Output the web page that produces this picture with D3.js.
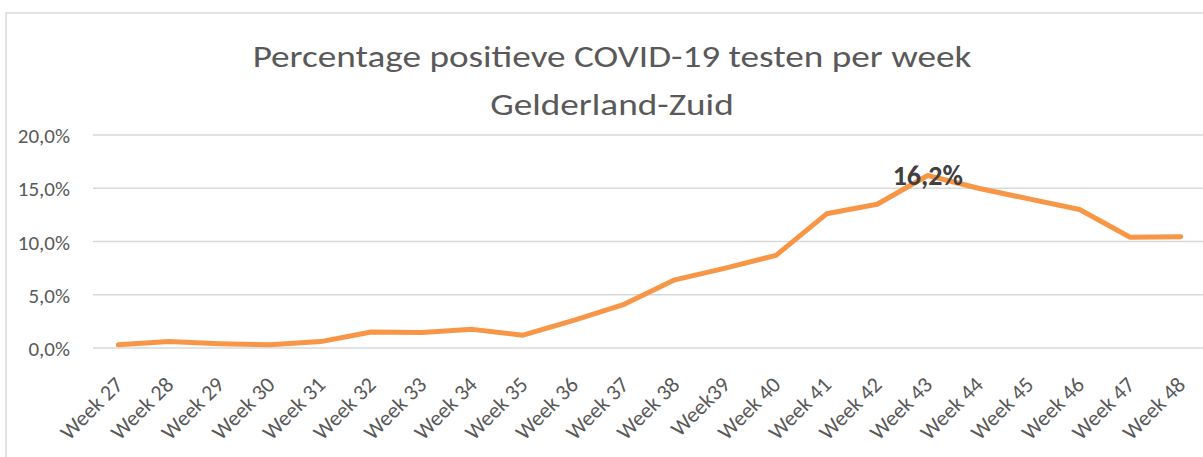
<!DOCTYPE html>
<html><head><meta charset="utf-8">
<script src="https://cdn.jsdelivr.net/npm/d3@7"></script>
<style>body{margin:0;background:#fff}svg{display:block}</style>
</head><body>
<script>
const weeks = ["Week 27","Week 28","Week 29","Week 30","Week 31","Week 32","Week 33","Week 34","Week 35","Week 36","Week 37","Week 38","Week39","Week 40","Week 41","Week 42","Week 43","Week 44","Week 45","Week 46","Week 47","Week 48"];
const values = [0.3,0.6,0.4,0.3,0.6,1.5,1.45,1.75,1.2,2.6,4.1,6.4,7.5,8.7,12.6,13.5,16.2,15.0,14.0,13.0,10.4,10.45];
const yTicks = [0,5,10,15,20];
const titleLines = ["Percentage positieve COVID-19 testen per week","Gelderland-Zuid"];
const labelIndex = 16;

const W = 1203, H = 457;
const svg = d3.select("body").append("svg").attr("width", W).attr("height", H);
const font = "Calibri, Carlito, 'Open Sans', sans-serif";

svg.append("rect").attr("x",6).attr("y",13).attr("width",W+10).attr("height",H+10)
  .attr("fill","#fff").attr("stroke","#d9d9d9").attr("stroke-width",1.5);

const x = d3.scaleBand().domain(weeks).range([93,1206]);
const y = d3.scaleLinear().domain([0,20]).range([348,135]);

svg.append("g").selectAll("line").data(yTicks).join("line")
  .attr("x1",93).attr("x2",1206).attr("y1",d=>y(d)).attr("y2",d=>y(d))
  .attr("stroke","#d9d9d9").attr("stroke-width",1.5);

const yAxis = d3.axisLeft(y).tickValues(yTicks).tickSize(0).tickPadding(0)
  .tickFormat(d => d3.format(".1f")(d).replace(".",",") + "%");
const ya = svg.append("g").attr("transform","translate(70,0)").call(yAxis);
ya.select(".domain").remove();
ya.selectAll("text").attr("font-family",font).attr("font-size",21).attr("fill","#595959").attr("dy","0.36em");

const xAxis = d3.axisBottom(x).tickSize(0).tickPadding(0);
const xa = svg.append("g").attr("transform","translate(0,348)").call(xAxis);
xa.select(".domain").remove();
xa.selectAll("text").attr("font-family",font).attr("font-size",22).attr("fill","#595959")
  .attr("text-anchor","end").attr("dy",null).attr("y",0)
  .attr("transform","translate(6,38) rotate(-45)");

const line = d3.line().x((d,i)=>x(weeks[i])+x.bandwidth()/2).y(d=>y(d));
svg.append("path").datum(values).attr("d",line).attr("fill","none")
  .attr("stroke","#f79646").attr("stroke-width",5).attr("stroke-linejoin","round").attr("stroke-linecap","round");

svg.append("text").attr("x",x(weeks[labelIndex])+x.bandwidth()/2).attr("y",y(values[labelIndex])+10)
  .attr("text-anchor","middle").attr("font-family",font).attr("font-weight","bold").attr("font-size",28)
  .attr("fill","#404040").text(d3.format(".1f")(values[labelIndex]).replace(".",",")+"%");

svg.append("g").attr("transform","translate(612,0) scale(1.2,1)")
  .selectAll("text").data(titleLines).join("text")
  .attr("x",0).attr("y",(d,i)=>67+i*48).attr("text-anchor","middle")
  .attr("font-family",font).attr("font-size",31).attr("fill","#595959").text(d=>d);
</script>
</body></html>
